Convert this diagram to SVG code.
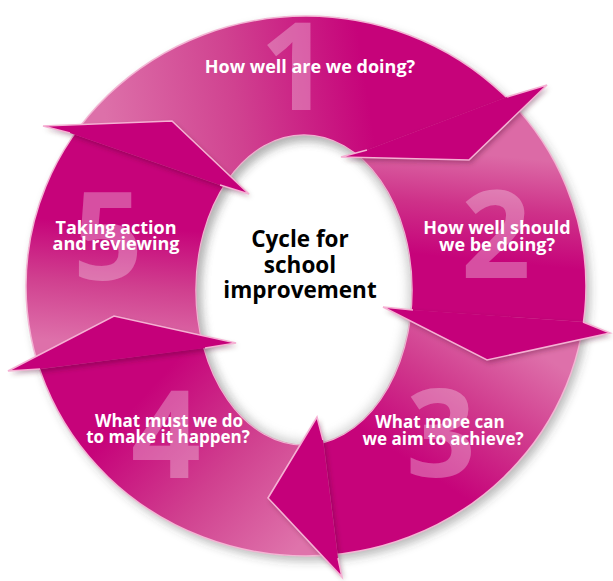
<svg xmlns="http://www.w3.org/2000/svg" xmlns:xlink="http://www.w3.org/1999/xlink" width="613" height="581" viewBox="0 0 613 581">
<style>
.lbl{font-family:"Open Sans","Liberation Sans",sans-serif;font-weight:700;fill:#ffffff;text-anchor:middle}
.num{font-family:"Open Sans","Liberation Sans",sans-serif;font-weight:700;fill:#ffffff;fill-opacity:0.3;text-anchor:middle;font-size:122px}
.ctr{font-family:"Open Sans","Liberation Sans",sans-serif;font-weight:700;fill:#000000;text-anchor:middle;font-size:22.5px}
.head{fill:#c5027a;filter:url(#hs)}
.edge{fill:none;stroke:#f5b0d3;stroke-width:1.6;stroke-linejoin:miter}
</style>
<defs>
<path id="ring" fill-rule="evenodd" d="M26,286 A280,270 0 1 1 586,286 A280,270 0 1 1 26,286 Z M196,290 A108,155 0 1 0 412,290 A108,155 0 1 0 196,290 Z"/>
<clipPath id="c1"><polygon points="304,290 233,190 -5,107 -60,90 -60,-60 660,-60 647,44 346,158"/></clipPath>
<clipPath id="c2"><polygon points="304,290 346,158 647,44 700,40 700,331 685,329 396,309"/></clipPath>
<clipPath id="c3"><polygon points="304,290 396,309 685,329 700,331 700,652 350,652 321,422"/></clipPath>
<clipPath id="c4"><polygon points="304,290 321,422 350,652 -60,652 -60,382 -42,380 225,345"/></clipPath>
<clipPath id="c5"><polygon points="304,290 225,345 -42,380 -60,382 -60,90 -5,107 233,190"/></clipPath>
<clipPath id="hole"><ellipse cx="304" cy="290" rx="108" ry="155"/></clipPath>
<linearGradient id="g1" gradientUnits="userSpaceOnUse" x1="110" y1="150" x2="370" y2="110">
<stop offset="0" stop-color="#dd70a9"/><stop offset="0.5" stop-color="#d04290"/><stop offset="1" stop-color="#c6037a"/></linearGradient>
<linearGradient id="g2" gradientUnits="userSpaceOnUse" x1="540" y1="160" x2="530" y2="265">
<stop offset="0" stop-color="#dc6aa6"/><stop offset="0.5" stop-color="#ce3189"/><stop offset="1" stop-color="#c6037a"/></linearGradient>
<linearGradient id="g3" gradientUnits="userSpaceOnUse" x1="520" y1="340" x2="430" y2="475">
<stop offset="0" stop-color="#de70aa"/><stop offset="0.5" stop-color="#d0398d"/><stop offset="1" stop-color="#c6037a"/></linearGradient>
<linearGradient id="g4" gradientUnits="userSpaceOnUse" x1="300" y1="545" x2="140" y2="400">
<stop offset="0" stop-color="#df73ab"/><stop offset="0.5" stop-color="#d0408f"/><stop offset="1" stop-color="#c6037a"/></linearGradient>
<linearGradient id="g5" gradientUnits="userSpaceOnUse" x1="110" y1="345" x2="120" y2="225">
<stop offset="0" stop-color="#de70aa"/><stop offset="0.5" stop-color="#d0408f"/><stop offset="1" stop-color="#c6037a"/></linearGradient>
<filter id="rs" x="-10%" y="-10%" width="125%" height="125%">
<feDropShadow dx="4" dy="5" stdDeviation="5" flood-color="#3a3a3a" flood-opacity="0.35"/></filter>
<filter id="hs" x="-20%" y="-20%" width="140%" height="140%">
<feDropShadow dx="2" dy="3" stdDeviation="2.5" flood-color="#4a0028" flood-opacity="0.35"/></filter>
<filter id="blur"><feGaussianBlur stdDeviation="5"/></filter>
</defs>

<g id="ring-shadow">
<use xlink:href="#ring" href="#ring" fill="#c6037a" filter="url(#rs)"/>
</g>

<g id="segment-1"><use xlink:href="#ring" href="#ring" fill="url(#g1)" clip-path="url(#c1)"/></g>
<g id="segment-2"><use xlink:href="#ring" href="#ring" fill="url(#g2)" clip-path="url(#c2)"/></g>
<g id="segment-3"><use xlink:href="#ring" href="#ring" fill="url(#g3)" clip-path="url(#c3)"/></g>
<g id="segment-4"><use xlink:href="#ring" href="#ring" fill="url(#g4)" clip-path="url(#c4)"/></g>
<g id="segment-5"><use xlink:href="#ring" href="#ring" fill="url(#g5)" clip-path="url(#c5)"/></g>

<g id="ring-rims">
<ellipse cx="306" cy="286" rx="280" ry="270" fill="none" stroke="#f3b6d4" stroke-width="1.5"/>
<ellipse cx="304" cy="290" rx="108" ry="155" fill="none" stroke="#f3b6d4" stroke-width="1.5"/>
<g clip-path="url(#hole)"><ellipse cx="304" cy="290" rx="108" ry="155" fill="none" stroke="#9a9a9a" stroke-width="10" opacity="0.35" filter="url(#blur)"/></g>
</g>

<g id="numbers">
<text class="num" x="295" y="110">1</text>
<text class="num" x="496" y="278">2</text>
<text class="num" x="441" y="477">3</text>
<text class="num" x="166" y="478">4</text>
<text class="num" x="108" y="280">5</text>
</g>

<g id="connectors">
<g id="head-1"><polygon class="head" points="507,97 547,85 469,160 341,157 367,150"/><polyline class="edge" points="507,97 547,85 469,160 341,157 367,150"/></g>
<g id="head-2"><polygon class="head" points="583,322 610,333 487,360 383,307 413,310"/><polyline class="edge" points="583,322 610,333 487,360 383,307 413,310"/></g>
<g id="head-3"><polygon class="head" points="338,558 342,577 268,498 317,417 323,440"/><polyline class="edge" points="338,558 342,577 268,498 317,417 323,440"/></g>
<g id="head-4"><polygon class="head" points="40,369 8,371 114,316 236,343 205,348"/><polyline class="edge" points="40,369 8,371 114,316 236,343 205,348"/></g>
<g id="head-5"><polygon class="head" points="70,133 43,126 172,121 249,194 220,185"/><polyline class="edge" points="70,133 43,126 172,121 249,194 220,185"/></g>
</g>

<g id="node-1"><text class="lbl" x="310" y="73" font-size="18">How well are we doing?</text></g>
<g id="node-2"><text class="lbl" x="497" y="234" font-size="18">How well should</text><text class="lbl" x="497" y="251" font-size="18">we be doing?</text></g>
<g id="node-3"><text class="lbl" x="440" y="428" font-size="17">What more can</text><text class="lbl" x="443" y="445" font-size="17">we aim to achieve?</text></g>
<g id="node-4"><text class="lbl" x="169" y="427" font-size="17">What must we do</text><text class="lbl" x="168" y="443" font-size="17">to make it happen?</text></g>
<g id="node-5"><text class="lbl" x="116" y="234" font-size="18">Taking action</text><text class="lbl" x="116" y="250" font-size="18">and reviewing</text></g>
<g id="center"><text class="ctr" x="300" y="247">Cycle for</text><text class="ctr" x="300" y="273">school</text><text class="ctr" x="300" y="298">improvement</text></g>
</svg>
